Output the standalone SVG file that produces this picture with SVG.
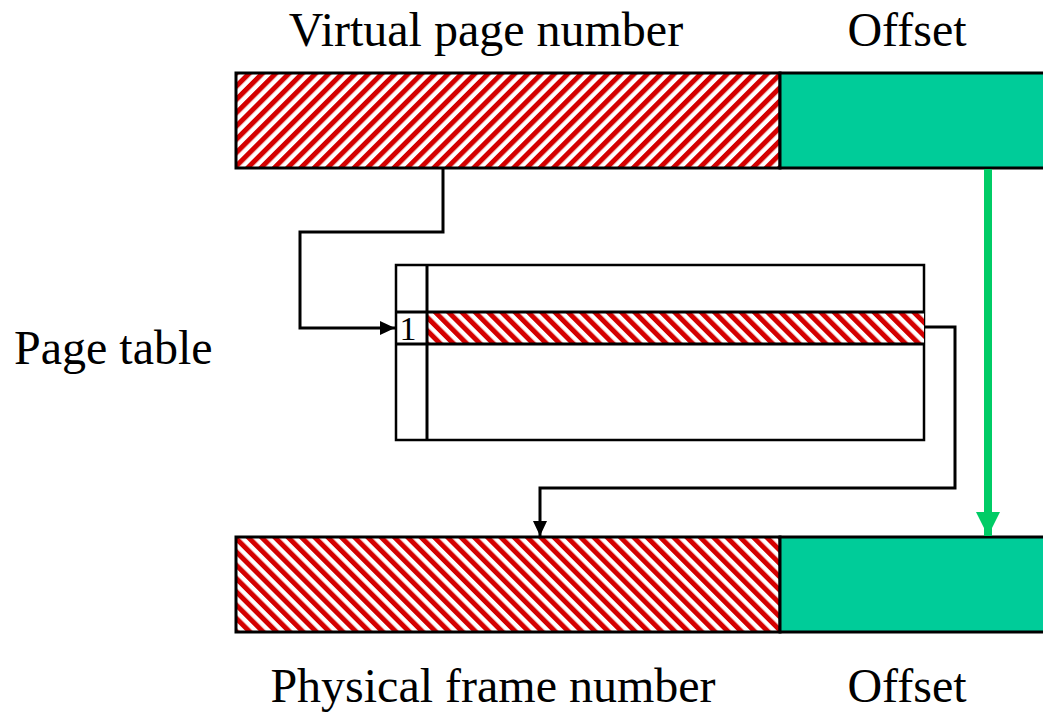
<svg xmlns="http://www.w3.org/2000/svg" width="1043" height="712" viewBox="0 0 1043 712">
<defs>
<pattern id="hatchUp" patternUnits="userSpaceOnUse" width="9.4" height="9.4" patternTransform="rotate(45)">
<rect width="9.4" height="9.4" fill="#ffffff"/>
<rect width="5" height="9.4" fill="#d40000"/>
</pattern>
<pattern id="hatchDown" patternUnits="userSpaceOnUse" width="9.4" height="9.4" patternTransform="rotate(-45)">
<rect width="9.4" height="9.4" fill="#ffffff"/>
<rect width="5" height="9.4" fill="#d40000"/>
</pattern>
<marker id="arrowBlack" markerWidth="15" markerHeight="14" refX="15" refY="7" orient="auto" markerUnits="userSpaceOnUse" viewBox="0 0 15 14">
<path d="M0,0 L15,7 L0,14 Z" fill="#000"/>
</marker>
<marker id="arrowGreen" markerWidth="24" markerHeight="24" refX="24" refY="12" orient="auto" markerUnits="userSpaceOnUse" viewBox="0 0 24 24">
<path d="M0,0 L24,12 L0,24 Z" fill="#00cc66"/>
</marker>
</defs>
<style>
.lbl{font-family:"Liberation Serif","Times New Roman",serif;font-size:48px;fill:#000}
.box{stroke:#000;stroke-width:3}
.line{fill:none;stroke:#000;stroke-width:3}
</style>
<g id="virtual-address">
<rect class="box" x="236" y="73" width="544" height="95" fill="url(#hatchUp)"/>
<rect class="box" x="780" y="73" width="266" height="95" fill="#00cc99"/>
<text class="lbl" x="486" y="46" text-anchor="middle">Virtual page number</text>
<text class="lbl" x="907" y="46" text-anchor="middle">Offset</text>
</g>
<g id="page-table">
<rect x="396" y="265" width="528" height="175" fill="#fff" stroke="#000" stroke-width="2.5"/>
<rect x="427" y="312" width="497" height="32" fill="url(#hatchDown)"/>
<line class="line" x1="427" y1="265" x2="427" y2="440" stroke-width="2.5"/>
<line class="line" x1="396" y1="312" x2="924" y2="312" stroke-width="2.5"/>
<line class="line" x1="396" y1="344" x2="924" y2="344" stroke-width="2.5"/>
<text x="408" y="340" text-anchor="middle" font-family="Liberation Serif, serif" font-size="34">1</text>
<text class="lbl" x="14" y="364">Page table</text>
</g>
<g id="physical-address">
<rect class="box" x="236" y="537" width="544" height="95" fill="url(#hatchDown)"/>
<rect class="box" x="780" y="537" width="266" height="95" fill="#00cc99"/>
<text class="lbl" x="493" y="702" text-anchor="middle">Physical frame number</text>
<text class="lbl" x="907" y="702" text-anchor="middle">Offset</text>
</g>
<g id="connectors">
<path class="line" d="M443,168 V232 H300 V328 H395" marker-end="url(#arrowBlack)"/>
<path class="line" d="M924,327 H955 V488 H540 V536" marker-end="url(#arrowBlack)"/>
<path d="M988,169 V536" stroke="#00cc66" stroke-width="8" fill="none" marker-end="url(#arrowGreen)"/>
</g>
</svg>
